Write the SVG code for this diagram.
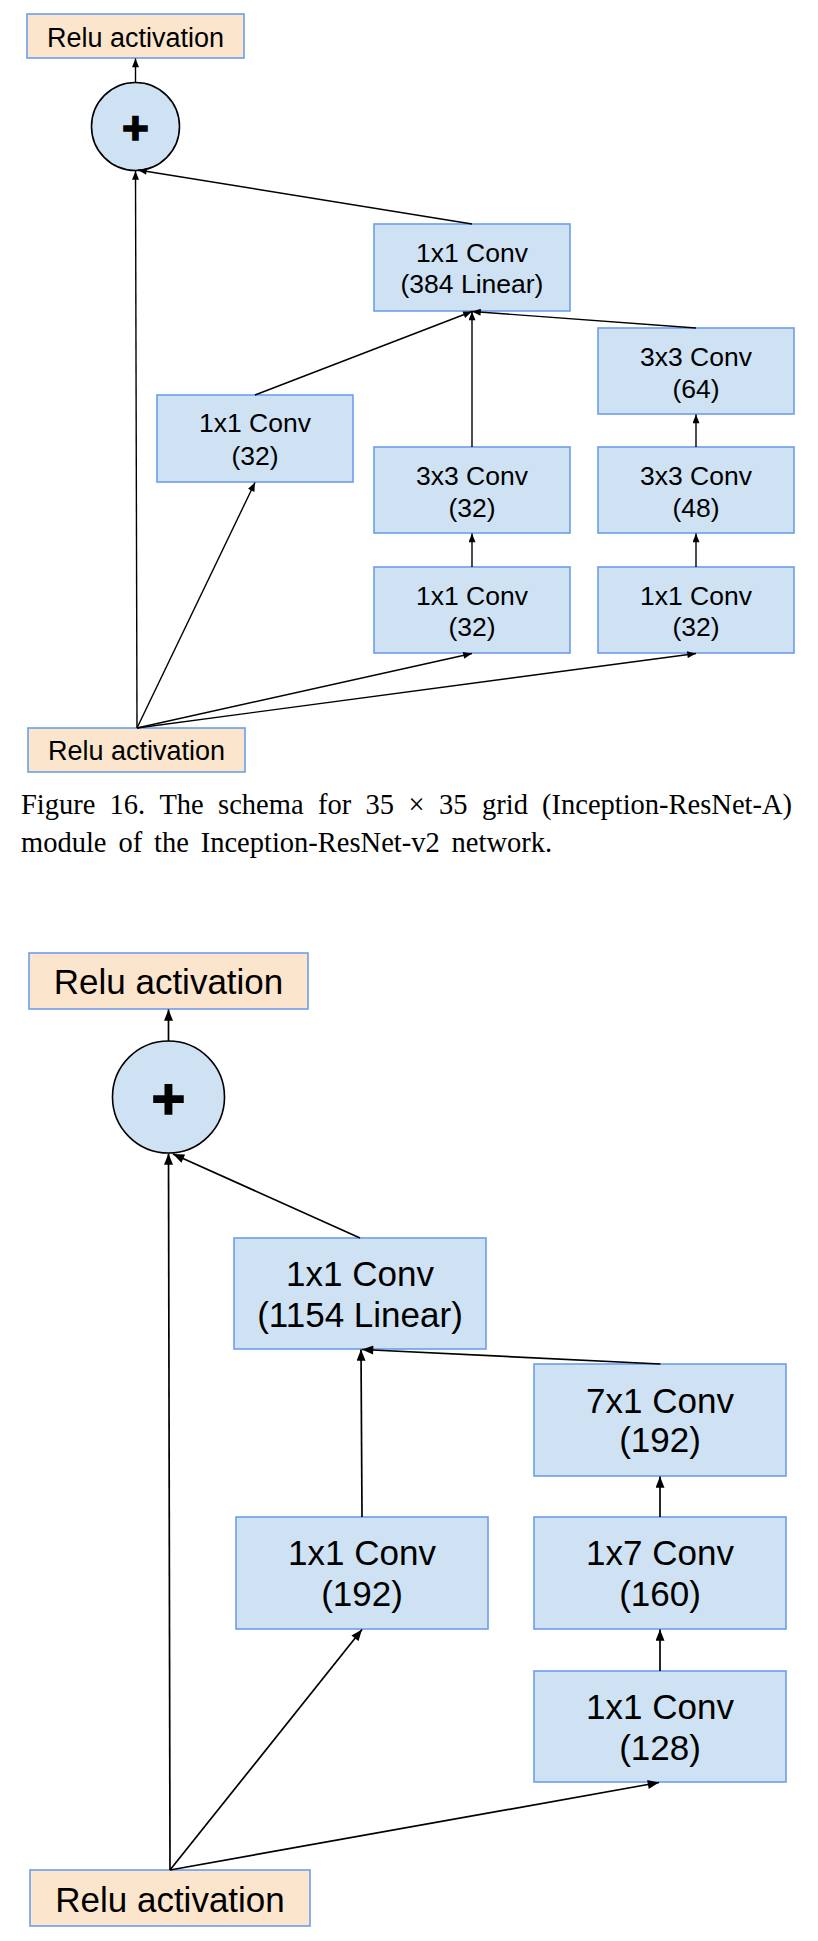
<svg xmlns="http://www.w3.org/2000/svg" width="818" height="1941" viewBox="0 0 818 1941">
<style>
.relu{fill:#fce5cd;stroke:#6d9eeb;stroke-width:1.6}
.conv{fill:#cfe2f3;stroke:#6d9eeb;stroke-width:1.6}
.sum{fill:#cfe2f3;stroke:#000;stroke-width:1.6}
.t1{font-family:"Liberation Sans",Arial,sans-serif;font-size:26.5px;fill:#000;text-anchor:middle}
.r1{font-size:27px}
.t2{font-family:"Liberation Sans",Arial,sans-serif;font-size:35px;fill:#000;text-anchor:middle}
.plus{font-family:"Liberation Sans",Arial,sans-serif;font-weight:bold;fill:#000;stroke:#000;stroke-width:1.5;text-anchor:middle}
.cap{font-family:"Liberation Serif","Times New Roman",serif;font-size:28.5px;fill:#000}
.c1{fill:none;stroke:#000;stroke-width:1.4}
.c2{fill:none;stroke:#000;stroke-width:1.7}
</style>
<defs>
<marker id="a1" viewBox="0 0 10 8" refX="10" refY="4" markerWidth="10" markerHeight="7" markerUnits="userSpaceOnUse" orient="auto"><path d="M0,0 L10,4 L0,8 z" fill="#000"/></marker>
<marker id="a2" viewBox="0 0 10 8" refX="10" refY="4" markerWidth="13" markerHeight="9" markerUnits="userSpaceOnUse" orient="auto"><path d="M0,0 L10,4 L0,8 z" fill="#000"/></marker>
</defs>

<!-- Figure 16 -->
<g id="a_relu_out"><rect class="relu" x="27" y="14" width="217" height="44"/><text class="t1 r1" x="135.5" y="47">Relu activation</text></g>
<g id="a_sum"><circle class="sum" cx="135.5" cy="126.5" r="44"/><text class="plus" x="135.5" y="143.5" font-size="46">+</text></g>
<g id="a_conv384"><rect class="conv" x="374" y="224" width="196" height="87"/><text class="t1" x="472" y="261.5">1x1 Conv</text><text class="t1" x="472" y="293">(384 Linear)</text></g>
<g id="a_conv32a"><rect class="conv" x="157" y="395" width="196" height="87"/><text class="t1" x="255" y="432">1x1 Conv</text><text class="t1" x="255" y="464.5">(32)</text></g>
<g id="a_conv33_32"><rect class="conv" x="374" y="447" width="196" height="86"/><text class="t1" x="472" y="485">3x3 Conv</text><text class="t1" x="472" y="516.5">(32)</text></g>
<g id="a_conv11_32b"><rect class="conv" x="374" y="567" width="196" height="86"/><text class="t1" x="472" y="604.5">1x1 Conv</text><text class="t1" x="472" y="636">(32)</text></g>
<g id="a_conv33_64"><rect class="conv" x="598" y="328" width="196" height="86"/><text class="t1" x="696" y="365.5">3x3 Conv</text><text class="t1" x="696" y="397.5">(64)</text></g>
<g id="a_conv33_48"><rect class="conv" x="598" y="447" width="196" height="86"/><text class="t1" x="696" y="485">3x3 Conv</text><text class="t1" x="696" y="516.5">(48)</text></g>
<g id="a_conv11_32c"><rect class="conv" x="598" y="567" width="196" height="86"/><text class="t1" x="696" y="604.5">1x1 Conv</text><text class="t1" x="696" y="636">(32)</text></g>
<g id="a_relu_in"><rect class="relu" x="28" y="728" width="217" height="44"/><text class="t1 r1" x="136.5" y="760">Relu activation</text></g>

<g id="a_connectors">
<line class="c1" x1="135.5" y1="82.5" x2="135.5" y2="58.5" marker-end="url(#a1)"/>
<line class="c1" x1="137" y1="728" x2="135.5" y2="171" marker-end="url(#a1)"/>
<line class="c1" x1="472" y1="224" x2="138" y2="170" marker-end="url(#a1)"/>
<line class="c1" x1="255" y1="395" x2="472" y2="311.5" marker-end="url(#a1)"/>
<line class="c1" x1="472" y1="447" x2="472" y2="311.5" marker-end="url(#a1)"/>
<line class="c1" x1="696" y1="328" x2="472" y2="311.5" marker-end="url(#a1)"/>
<line class="c1" x1="472" y1="567" x2="472" y2="533.5" marker-end="url(#a1)"/>
<line class="c1" x1="696" y1="447" x2="696" y2="414.5" marker-end="url(#a1)"/>
<line class="c1" x1="696" y1="567" x2="696" y2="533.5" marker-end="url(#a1)"/>
<line class="c1" x1="137" y1="728" x2="255" y2="482.5" marker-end="url(#a1)"/>
<line class="c1" x1="137" y1="728" x2="472" y2="653.5" marker-end="url(#a1)"/>
<line class="c1" x1="137" y1="728" x2="696" y2="653.5" marker-end="url(#a1)"/>
</g>

<g id="caption">
<text class="cap" y="814"><tspan x="21">Figure</tspan><tspan x="109.4">16.</tspan><tspan x="159.4">The</tspan><tspan x="218.1">schema</tspan><tspan x="318">for</tspan><tspan x="365.6">35</tspan><tspan x="408.5">×</tspan><tspan x="439">35</tspan><tspan x="482">grid</tspan><tspan x="542">(Inception-ResNet-A)</tspan></text>
<text class="cap" y="851.5"><tspan x="21">module</tspan><tspan x="118.4">of</tspan><tspan x="154">the</tspan><tspan x="200.7">Inception-ResNet-v2</tspan><tspan x="451.6">network.</tspan></text>
</g>

<!-- Inception-ResNet-B -->
<g id="b_relu_out"><rect class="relu" x="29" y="953" width="279" height="56"/><text class="t2" x="168.5" y="993.5">Relu activation</text></g>
<g id="b_sum"><circle class="sum" cx="168.5" cy="1097" r="56"/><text class="plus" x="168.5" y="1119" font-size="58">+</text></g>
<g id="b_conv1154"><rect class="conv" x="234" y="1238" width="252" height="111"/><text class="t2" x="360" y="1285.5">1x1 Conv</text><text class="t2" x="360" y="1326.5">(1154 Linear)</text></g>
<g id="b_conv192a"><rect class="conv" x="236" y="1517" width="252" height="112"/><text class="t2" x="362" y="1565">1x1 Conv</text><text class="t2" x="362" y="1606">(192)</text></g>
<g id="b_conv71"><rect class="conv" x="534" y="1364" width="252" height="112"/><text class="t2" x="660" y="1413">7x1 Conv</text><text class="t2" x="660" y="1452">(192)</text></g>
<g id="b_conv17"><rect class="conv" x="534" y="1517" width="252" height="112"/><text class="t2" x="660" y="1565">1x7 Conv</text><text class="t2" x="660" y="1606">(160)</text></g>
<g id="b_conv128"><rect class="conv" x="534" y="1671" width="252" height="111"/><text class="t2" x="660" y="1718.5">1x1 Conv</text><text class="t2" x="660" y="1760">(128)</text></g>
<g id="b_relu_in"><rect class="relu" x="30" y="1870" width="280" height="56"/><text class="t2" x="170" y="1911.5">Relu activation</text></g>

<g id="b_connectors">
<line class="c2" x1="168.5" y1="1041" x2="168.5" y2="1009.5" marker-end="url(#a2)"/>
<line class="c2" x1="170" y1="1870" x2="168.5" y2="1153.5" marker-end="url(#a2)"/>
<line class="c2" x1="360" y1="1238" x2="173" y2="1154" marker-end="url(#a2)"/>
<line class="c2" x1="362" y1="1517" x2="361" y2="1349.5" marker-end="url(#a2)"/>
<line class="c2" x1="660.5" y1="1364" x2="362" y2="1349.5" marker-end="url(#a2)"/>
<line class="c2" x1="660" y1="1517" x2="660" y2="1476.5" marker-end="url(#a2)"/>
<line class="c2" x1="660" y1="1671" x2="660" y2="1629.5" marker-end="url(#a2)"/>
<line class="c2" x1="170" y1="1870" x2="362" y2="1629.5" marker-end="url(#a2)"/>
<line class="c2" x1="170" y1="1870" x2="659" y2="1782.5" marker-end="url(#a2)"/>
</g>
</svg>
